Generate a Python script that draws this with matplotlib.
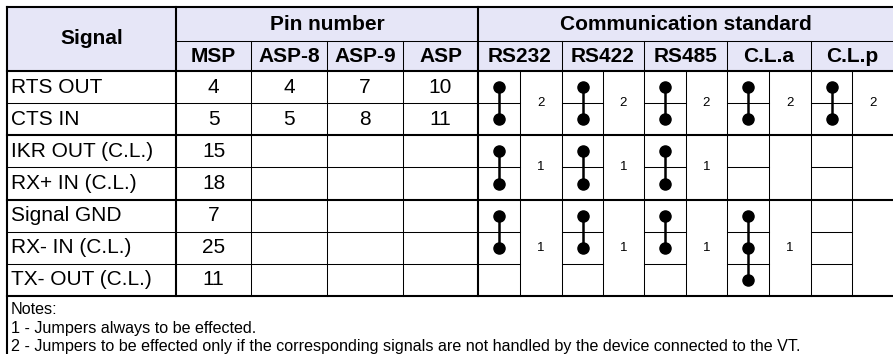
#!/usr/bin/env python3
# Pin-out / jumper table for the serial port, redrawn with matplotlib.

import matplotlib
matplotlib.use("Agg")
import matplotlib.pyplot as plt

plt.rcParams["font.family"] = ["Liberation Sans", "DejaVu Sans"]

# ---- table content ----
SIGNALS = ["RTS OUT", "CTS IN", "IKR OUT (C.L.)", "RX+ IN (C.L.)",
           "Signal GND", "RX- IN (C.L.)", "TX- OUT (C.L.)"]
PIN_HEADERS = ["MSP", "ASP-8", "ASP-9", "ASP"]
PIN_MSP  = [4, 5, 15, 18, 7, 25, 11]
PIN_ASP8 = [4, 5, None, None, None, None, None]
PIN_ASP9 = [7, 8, None, None, None, None, None]
PIN_ASP  = [10, 11, None, None, None, None, None]
GROUPS = [(0, 2), (2, 4), (4, 7)]  # row ranges that share one jumper cell
STANDARDS = ["RS232", "RS422", "RS485", "C.L.a", "C.L.p"]
# rows bridged by a jumper, one list per group
JUMPERS = {
    "RS232": [[0, 1], [2, 3], [4, 5]],
    "RS422": [[0, 1], [2, 3], [4, 5]],
    "RS485": [[0, 1], [2, 3], [4, 5]],
    "C.L.a": [[0, 1], [], [4, 5, 6]],
    "C.L.p": [[0, 1], [], []],
}
# note number shown next to each jumper group
NOTE_REFS = {
    "RS232": ["2", "1", "1"],
    "RS422": ["2", "1", "1"],
    "RS485": ["2", "1", "1"],
    "C.L.a": ["2", "", "1"],
    "C.L.p": ["2", "", ""],
}
NOTES = ["Notes:",
         "1 - Jumpers always to be effected.",
         "2 - Jumpers to be effected only if the corresponding signals are not handled by the device connected to the VT."]

# ---- layout (pixels, y grows downward) ----
W, H = 893, 354
LEFT, SIG_R = 7, 176
PIN_EDGES = [176, 251, 327, 403, 478]
STD_EDGES = [478, 562, 644, 727, 811, 893]
TOP, HDR_MID, HDR_BOT, BOTTOM = 7, 41, 71, 296
ROW_H = (BOTTOM - HDR_BOT) / len(SIGNALS)
THICK, THIN = 1.5, 0.75
HEADER_BG = "#e6e6f7"


def row_top(i):
    return HDR_BOT + i * ROW_H


def row_mid(i):
    return HDR_BOT + (i + 0.5) * ROW_H


def hline(ax, y, x0, x1, lw):
    ax.plot([x0, x1], [y, y], color="black", lw=lw, solid_capstyle="projecting")


def vline(ax, x, y0, y1, lw):
    ax.plot([x, x], [y0, y1], color="black", lw=lw, solid_capstyle="projecting")


# header band with the two-level column titles
def draw_header(ax):
    ax.add_patch(plt.Rectangle((LEFT, TOP), W - LEFT, HDR_BOT - TOP,
                               facecolor=HEADER_BG, edgecolor="none", zorder=0))
    hfont = dict(fontsize=15, fontweight="bold", ha="center", va="center")
    ax.text((LEFT + SIG_R) / 2, (TOP + HDR_BOT) / 2, "Signal", **hfont)
    ax.text((PIN_EDGES[0] + PIN_EDGES[-1]) / 2, (TOP + HDR_MID) / 2, "Pin number", **hfont)
    ax.text((STD_EDGES[0] + STD_EDGES[-1]) / 2, (TOP + HDR_MID) / 2,
            "Communication standard", **hfont)
    for k, name in enumerate(PIN_HEADERS):
        ax.text((PIN_EDGES[k] + PIN_EDGES[k + 1]) / 2, (HDR_MID + HDR_BOT) / 2, name, **hfont)
    for k, name in enumerate(STANDARDS):
        ax.text((STD_EDGES[k] + STD_EDGES[k + 1]) / 2, (HDR_MID + HDR_BOT) / 2, name, **hfont)


# signal names and pin numbers
def draw_body(ax):
    pins = [PIN_MSP, PIN_ASP8, PIN_ASP9, PIN_ASP]
    for i, name in enumerate(SIGNALS):
        y = row_mid(i)
        ax.text(LEFT + 4, y, name, fontsize=15, ha="left", va="center")
        for k, col in enumerate(pins):
            if col[i] is not None:
                ax.text((PIN_EDGES[k] + PIN_EDGES[k + 1]) / 2, y, str(col[i]),
                        fontsize=15, ha="center", va="center")


# jumper drawings: dots at row centres joined by a bar, note number alongside
def draw_jumpers(ax):
    for k, std in enumerate(STANDARDS):
        x0, x1 = STD_EDGES[k], STD_EDGES[k + 1]
        xs = (x0 + x1) / 2
        xc = (x0 + xs) / 2
        for g, (r0, r1) in enumerate(GROUPS):
            rows = JUMPERS[std][g]
            if rows:
                ys = [row_mid(r) for r in rows]
                ax.plot([xc] * len(ys), ys, color="black", lw=1.8, zorder=3)
                ax.plot([xc] * len(ys), ys, "o", color="black", ms=8, zorder=4)
            ref = NOTE_REFS[std][g]
            if ref:
                ax.text((xs + x1) / 2, (row_top(r0) + row_top(r1)) / 2, ref,
                        fontsize=9.5, ha="center", va="center")


def draw_grid(ax):
    # outer and group rules
    hline(ax, TOP, LEFT, W, THICK)
    hline(ax, HDR_MID, SIG_R, W, THIN)
    hline(ax, HDR_BOT, LEFT, W, THICK)
    for r0, r1 in GROUPS:
        hline(ax, row_top(r1), LEFT, W, THICK)
        for r in range(r0 + 1, r1):
            y = row_top(r)
            hline(ax, y, LEFT, PIN_EDGES[-1], THIN)
            for k in range(len(STANDARDS)):
                xs = (STD_EDGES[k] + STD_EDGES[k + 1]) / 2
                hline(ax, y, STD_EDGES[k], xs, THIN)
    vline(ax, LEFT, TOP, H, THICK)
    vline(ax, SIG_R, TOP, BOTTOM, THICK)
    vline(ax, PIN_EDGES[-1], TOP, BOTTOM, THICK)
    for x in PIN_EDGES[1:-1] + STD_EDGES[1:-1]:
        vline(ax, x, HDR_MID, BOTTOM, THIN)
    for k in range(len(STANDARDS)):
        vline(ax, (STD_EDGES[k] + STD_EDGES[k + 1]) / 2, HDR_BOT, BOTTOM, THIN)


def draw_notes(ax):
    for j, line in enumerate(NOTES):
        ax.text(LEFT + 4, 310 + j * 18.5, line, fontsize=11.6, ha="left", va="center")


def main():
    fig = plt.figure(figsize=(W / 100, H / 100), dpi=100)
    ax = fig.add_axes([0, 0, 1, 1])
    ax.set_xlim(0, W)
    ax.set_ylim(H, 0)
    ax.axis("off")

    draw_header(ax)
    draw_body(ax)
    draw_jumpers(ax)
    draw_grid(ax)
    draw_notes(ax)

    fig.savefig("out.png", dpi=100)
    plt.close(fig)


if __name__ == "__main__":
    main()
